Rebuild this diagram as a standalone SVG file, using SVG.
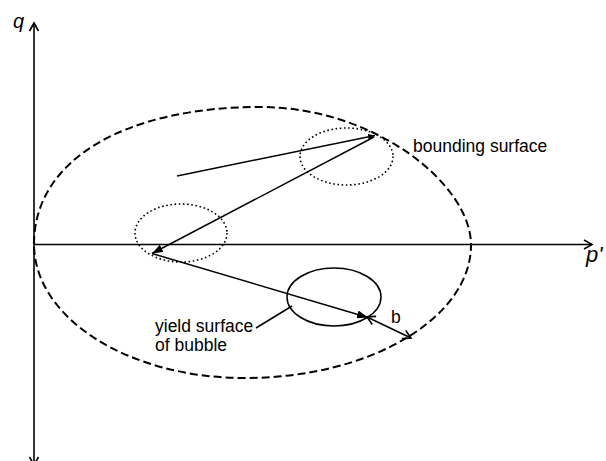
<svg xmlns="http://www.w3.org/2000/svg" width="606" height="461" viewBox="0 0 606 461">
<style>
.ln{stroke:#000;stroke-width:1.5;fill:none}
.ax{stroke:#000;stroke-width:1.6;fill:none}
.dot{stroke:#000;stroke-width:1.6;fill:none;stroke-dasharray:1.6 2.6}
.dash{stroke:#000;stroke-width:2;fill:none;stroke-dasharray:8 4}
.t{font-family:"Liberation Sans",Arial,sans-serif;font-size:17.5px;fill:#000}
.it{font-family:"Liberation Sans",Arial,sans-serif;font-style:italic;fill:#000}
</style>
<defs>
<marker id="fa" markerUnits="userSpaceOnUse" markerWidth="12" markerHeight="10" refX="11" refY="4" orient="auto">
<path d="M0,0 L11,4 L0,8 Z" fill="#000"/>
</marker>
<marker id="fs" markerUnits="userSpaceOnUse" markerWidth="8" markerHeight="8" refX="7" refY="3" orient="auto">
<path d="M0,0 L7,3 L0,6 Z" fill="#000"/>
</marker>
<marker id="oa" markerUnits="userSpaceOnUse" markerWidth="12" markerHeight="12" refX="9" refY="5" orient="auto-start-reverse">
<path d="M1,0.5 L9,5 L1,9.5" fill="none" stroke="#000" stroke-width="1.6"/>
</marker>
</defs>
<g id="axes">
<line class="ax" x1="34" y1="23" x2="34" y2="466"/>
<path class="ax" d="M29.5,31 L34,23 L38.5,31"/>
<path class="ax" d="M29.5,457 L34,465 L38.5,457"/>
<line class="ax" x1="34" y1="244.5" x2="592" y2="244.5"/>
<path class="ax" d="M584,240 L592,244.5 L584,249"/>
<text class="it" x="13" y="28" font-size="20">q</text>
<text class="it" x="586" y="262" font-size="22">p'</text>
</g>
<g id="bounding-surface">
<path class="dash" d="M34,244 C34,160 125,107 260,107 C376,107 471,185 471,245 C471,318 370,378 245,378 C128,378 34,318 34,244 Z"/>
<text class="t" x="413" y="152">bounding surface</text>
</g>
<g id="bubble-upper">
<ellipse class="dot" cx="346.5" cy="156.5" rx="46.5" ry="28.5"/>
</g>
<g id="bubble-left">
<ellipse class="dot" cx="181" cy="233" rx="46" ry="29"/>
</g>
<g id="bubble">
<ellipse class="ln" cx="334" cy="297" rx="47" ry="29"/>
<text class="t" x="155" y="332">yield surface</text>
<text class="t" x="155" y="351">of bubble</text>
</g>
<g id="b-label">
<text class="t" x="391" y="323" font-size="18">b</text>
</g>
<g id="connectors">
<line class="ln" x1="177" y1="176" x2="375" y2="135.5" marker-end="url(#fs)"/>
<line class="ln" x1="374" y1="137" x2="152" y2="253.5" marker-end="url(#fa)"/>
<line class="ln" x1="152" y1="253.5" x2="368" y2="317.5" marker-end="url(#fa)"/>
<line class="ln" x1="367" y1="317" x2="411" y2="338" marker-start="url(#oa)" marker-end="url(#oa)"/>
<line class="ln" x1="256" y1="328" x2="292" y2="306"/>
</g>
</svg>
